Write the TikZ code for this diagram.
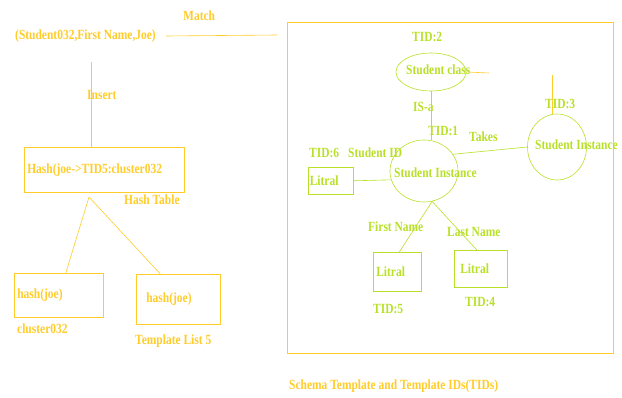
\documentclass[tikz,border=0pt]{standalone}
\usepackage{fontspec}
\setmainfont{Liberation Serif}[FakeStretch=0.82]
\usetikzlibrary{positioning,shapes.geometric}
\definecolor{gold}{RGB}{255,204,41}
\definecolor{lime}{RGB}{184,224,40}

\begin{document}
\begin{tikzpicture}[
      x=1pt, y=-1pt,
      font=\fontsize{14}{15}\selectfont\bfseries,
      lbl/.style={inner sep=0pt, anchor=west},
      goldtxt/.style={lbl, text=gold},
      limetxt/.style={lbl, text=lime},
      box/.style={draw, anchor=north west, align=left, inner xsep=3pt, inner ysep=0pt, line width=0.6pt},
      hbox/.style={box, draw=gold, text=gold},
      lbox/.style={box, draw=lime, text=lime},
      blob/.style={draw=lime, ellipse, inner sep=0pt, line width=0.6pt},
      link/.style={line width=0.6pt}
    ]
    \useasboundingbox (0,0) rectangle (622,398);

    % Input tuple
    \node[goldtxt] (tuple) at (15,36) {(Student032,First Name,Joe)};
    \node[goldtxt] (match) at (183,16) {Match};
    \coordinate (matchend) at (277,35);
    \draw[link, gold] ([xshift=10pt]tuple.east) -- (matchend);

    % Hash table
    \node[hbox, text width=154pt, minimum height=45pt] (hash) at (24,147) {Hash(joe->TID5:cluster032};
    \node[goldtxt] (htab) at (124,200) {Hash Table};
    \coordinate (instop) at (91,62);
    \draw[link, gold] (instop) -- (instop |- hash.north);
    \node[goldtxt] (insert) at (87,95) {Insert};

    % Buckets
    \node[hbox, text width=83pt, minimum height=44pt] (cl) at (14,273) {hash(joe)};
    \node[goldtxt] (clname) at (17,329) {cluster032};
    \node[hbox, inner xsep=10pt, text width=64pt, minimum height=50pt] (tl) at (136,274) {hash(joe)\\[4pt]};
    \node[goldtxt] (tlname) at (135,341) {Template List 5};
    \coordinate (fork) at (89,197);
    \draw[link, gold] (fork) -- ([xshift=7pt]cl.north);
    \draw[link, gold] (fork) -- ([xshift=-18pt]tl.north);

    % Schema template frame
    \draw[link, gold] (287,22) rectangle (613,353);
    \node[goldtxt] (caption) at (289,386) {Schema Template and Template IDs(TIDs)};

    % Student class (TID:2)
    \node[blob, minimum width=70pt, minimum height=38pt] (sclass) at (431,72) {};
    \node[limetxt] (sclasstxt) at (406,70) {Student class};
    \node[limetxt] (tid2) at (412,37) {TID:2};
    \coordinate (clsend) at (489,73);
    \draw[link, gold] (sclass.east) -- (clsend);

    % Student instance (TID:1)
    \node[blob, minimum width=68pt, minimum height=62pt] (sinst) at (424,171) {};
    \node[limetxt] (sinsttxt) at (394,173) {Student Instance};
    \node[limetxt] (tid1) at (428,131) {TID:1};
    \draw[link, lime] (sclass.south) -- (sinst.north -| sclass.south);
    \node[limetxt] (isa) at (413,107) {IS-a};

    % Student instance (TID:3)
    \node[blob, minimum width=59pt, minimum height=66pt] (sinst3) at (557,147) {};
    \node[limetxt] (sinst3txt) at (535,145) {Student Instance};
    \node[limetxt] (tid3) at (545,104) {TID:3};
    \coordinate (tidtop) at (552,75);
    \draw[link, gold] (tidtop) -- (tidtop |- sinst3.north);
    \draw[link, lime] (sinst.30) -- (sinst3.west);
    \node[limetxt] (takes) at (469,137) {Takes};

    % Literals
    \node[lbox, inner xsep=1.5pt, text width=42pt, minimum height=27pt] (lit6) at (308,167) {Litral};
    \node[limetxt] (tid6) at (309,153) {TID:6};
    \node[limetxt] (sid) at (348,153) {Student ID};
    \draw[link, lime] (lit6.east) -- (sinst.195);

    \node[lbox, text width=42pt, minimum height=39pt] (lit5) at (373,252) {Litral};
    \node[limetxt] (tid5) at (373,309) {TID:5};
    \node[limetxt] (fname) at (368,227) {First Name};
    \draw[link, lime] (sinst.-75) -- ([xshift=2pt]lit5.north);

    \node[lbox, inner xsep=6pt, text width=41pt, minimum height=37pt] (lit4) at (454,250) {Litral};
    \node[limetxt] (tid4) at (465,302) {TID:4};
    \node[limetxt] (lname) at (447,232) {Last Name};
    \draw[link, lime] (sinst.-75) -- ([xshift=-4pt]lit4.north);

\end{tikzpicture}
\end{document}
